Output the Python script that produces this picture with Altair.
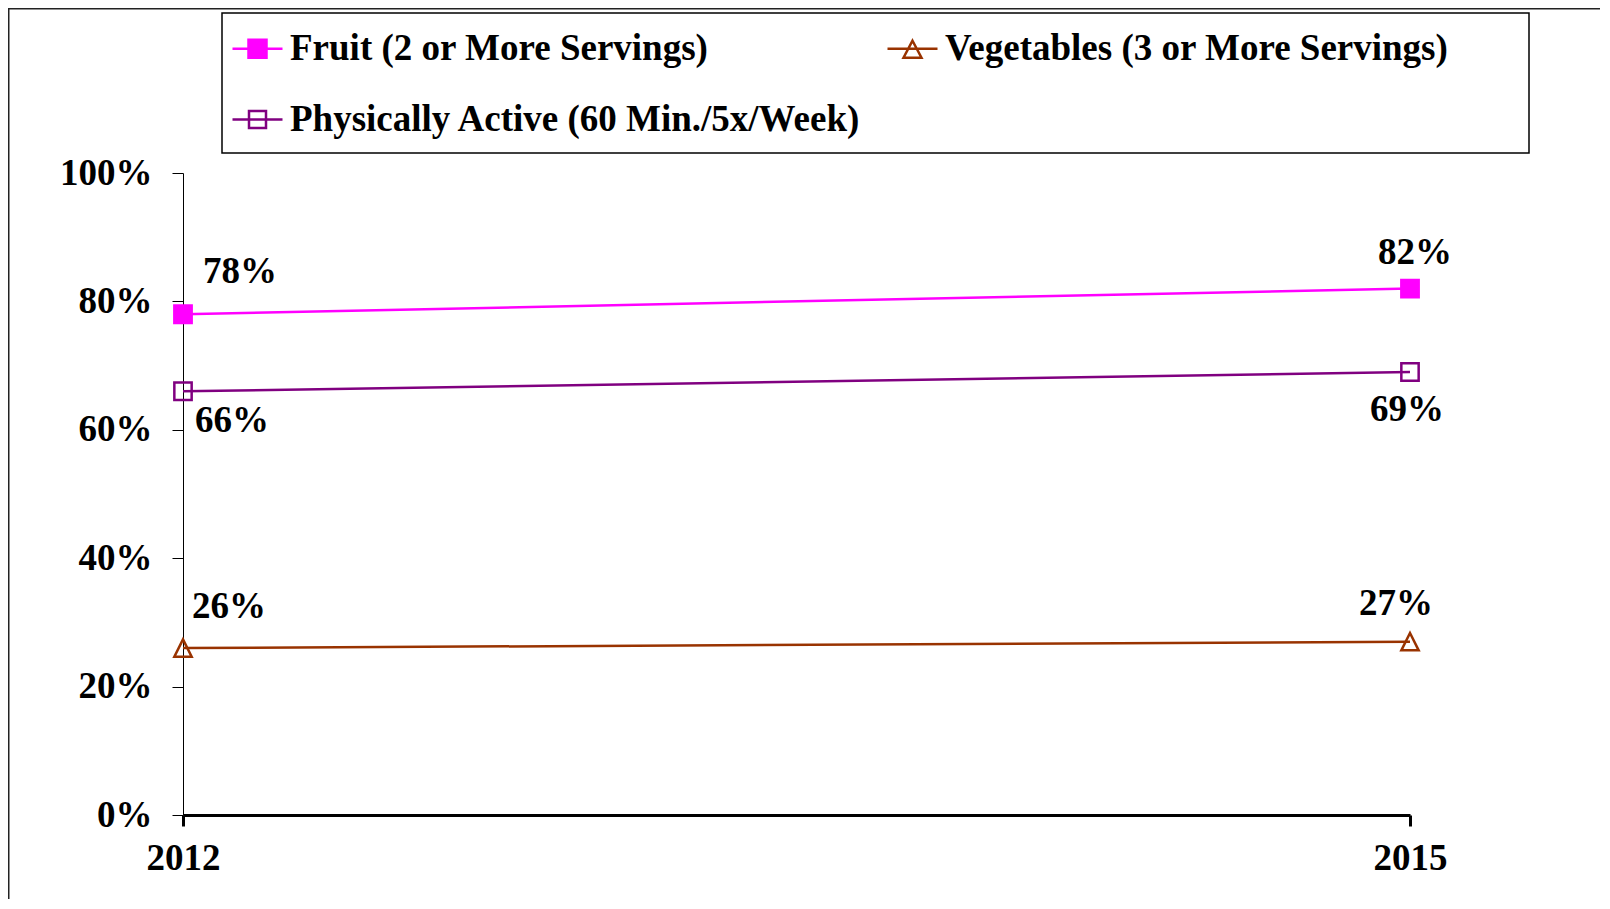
import altair as alt
import pandas as pd

years = [2012, 2015]
series_names = [
    "Fruit (2 or More Servings)",
    "Vegetables (3 or More Servings)",
    "Physically Active (60 Min./5x/Week)",
]
fruit = [0.78, 0.82]
vegetables = [0.26, 0.27]
active = [0.66, 0.69]

colors = ["#FF00FF", "#993300", "#800080"]
fills = ["#FF00FF", "transparent", "transparent"]
y_ticks = [0, 0.2, 0.4, 0.6, 0.8, 1.0]

rows = []
for name, vals in zip(series_names, [fruit, vegetables, active]):
    for yr, v in zip(years, vals):
        rows.append({"series": name, "year": yr, "value": v})
df = pd.DataFrame(rows)

FONT = "Liberation Serif"
FS = 37

x_enc = alt.X(
    "year:Q",
    scale=alt.Scale(domain=[2012, 2015], nice=False, zero=False),
    axis=alt.Axis(
        values=years, format="d", title=None, grid=False,
        labelFont=FONT, labelFontSize=FS, labelFontWeight="bold", labelColor="black",
        domainColor="black", domainWidth=3, tickColor="black", tickWidth=3,
        tickSize=11, labelPadding=14, labelFlush=False,
    ),
)
y_enc = alt.Y(
    "value:Q",
    scale=alt.Scale(domain=[0, 1], nice=False),
    axis=alt.Axis(
        values=y_ticks, format=".0%", title=None, grid=False,
        labelFont=FONT, labelFontSize=FS, labelFontWeight="bold", labelColor="black",
        domainColor="black", domainWidth=1, tickColor="black", tickWidth=1,
        tickSize=11, labelPadding=20,
    ),
)

base = alt.Chart(df)

lines = base.mark_line(strokeWidth=2.5).encode(
    x=x_enc, y=y_enc,
    color=alt.Color("series:N", scale=alt.Scale(domain=series_names, range=colors), legend=None),
)

plot_shapes = ["square", "M0,-1L1,1H-1Z", "square"]
points = base.mark_point(size=300, strokeWidth=2.5, opacity=1).encode(
    x=x_enc, y=y_enc,
    stroke=alt.Stroke("series:N", scale=alt.Scale(domain=series_names, range=colors), legend=None),
    fill=alt.Fill("series:N", scale=alt.Scale(domain=series_names, range=fills), legend=None),
    shape=alt.Shape("series:N", scale=alt.Scale(domain=series_names, range=plot_shapes), legend=None),
)

legend_shapes = [
    "M-1,0H1M-0.36,-0.36H0.36V0.36H-0.36Z",
    "M-1,0H1M0,-0.32L0.36,0.36H-0.36Z",
    "M-1,0H1M-0.34,-0.34H0.34V0.34H-0.34Z",
]
leg = alt.Legend(title=None)
legend_layer = base.mark_point(opacity=0, strokeWidth=2.5).encode(
    x=x_enc, y=y_enc,
    stroke=alt.Stroke("series:N", scale=alt.Scale(domain=series_names, range=colors), legend=leg),
    fill=alt.Fill("series:N", scale=alt.Scale(domain=series_names, range=fills), legend=leg),
    shape=alt.Shape("series:N", scale=alt.Scale(domain=series_names, range=legend_shapes), legend=leg),
)


def label(name, yr, dx, dy):
    return base.transform_filter(
        (alt.datum.series == name) & (alt.datum.year == yr)
    ).mark_text(
        dx=dx, dy=dy, font=FONT, fontSize=FS, fontWeight="bold", color="black",
        align="center", baseline="middle",
    ).encode(x=x_enc, y=y_enc, text=alt.Text("value:Q", format=".0%"))


labels = [
    label(series_names[0], 2012, 57, -42),
    label(series_names[0], 2015, 5, -36),
    label(series_names[2], 2012, 49, 30),
    label(series_names[2], 2015, -3, 38),
    label(series_names[1], 2012, 46, -41),
    label(series_names[1], 2015, -14, -38),
]

one = pd.DataFrame({"k": [0]})
legend_box = alt.Chart(one).mark_rect(fill="transparent", stroke="black", strokeWidth=1.5).encode(
    x=alt.value(39), x2=alt.value(1346), y=alt.value(-160), y2=alt.value(-20)
)
frame_left = alt.Chart(one).mark_rule(color="#222222", strokeWidth=2).encode(
    x=alt.value(-174.5), y=alt.value(-166), y2=alt.value(760)
)
frame_top = alt.Chart(one).mark_rule(color="#222222", strokeWidth=2).encode(
    x=alt.value(-176), x2=alt.value(1440), y=alt.value(-164.5)
)

chart = alt.layer(
    frame_left, frame_top, legend_box, lines, points, legend_layer, *labels
).resolve_scale(
    color="independent", stroke="independent", fill="independent", shape="independent"
).properties(
    width=1227, height=642,
    padding={"left": 175, "top": 165, "right": 190, "bottom": 84},
    autosize=alt.AutoSizeParams(type="none"),
).configure_view(stroke=None).configure_legend(
    orient="none", legendX=48, legendY=-151, direction="horizontal", columns=2,
    labelFont=FONT, labelFontSize=FS, labelFontWeight="bold", labelColor="black",
    labelLimit=1000, labelOffset=6, symbolSize=2500, symbolStrokeWidth=2.5,
    symbolOpacity=1, rowPadding=26, columnPadding=20, padding=0,
)

chart.save("out.html", embed_options={"renderer": "svg", "actions": False})
